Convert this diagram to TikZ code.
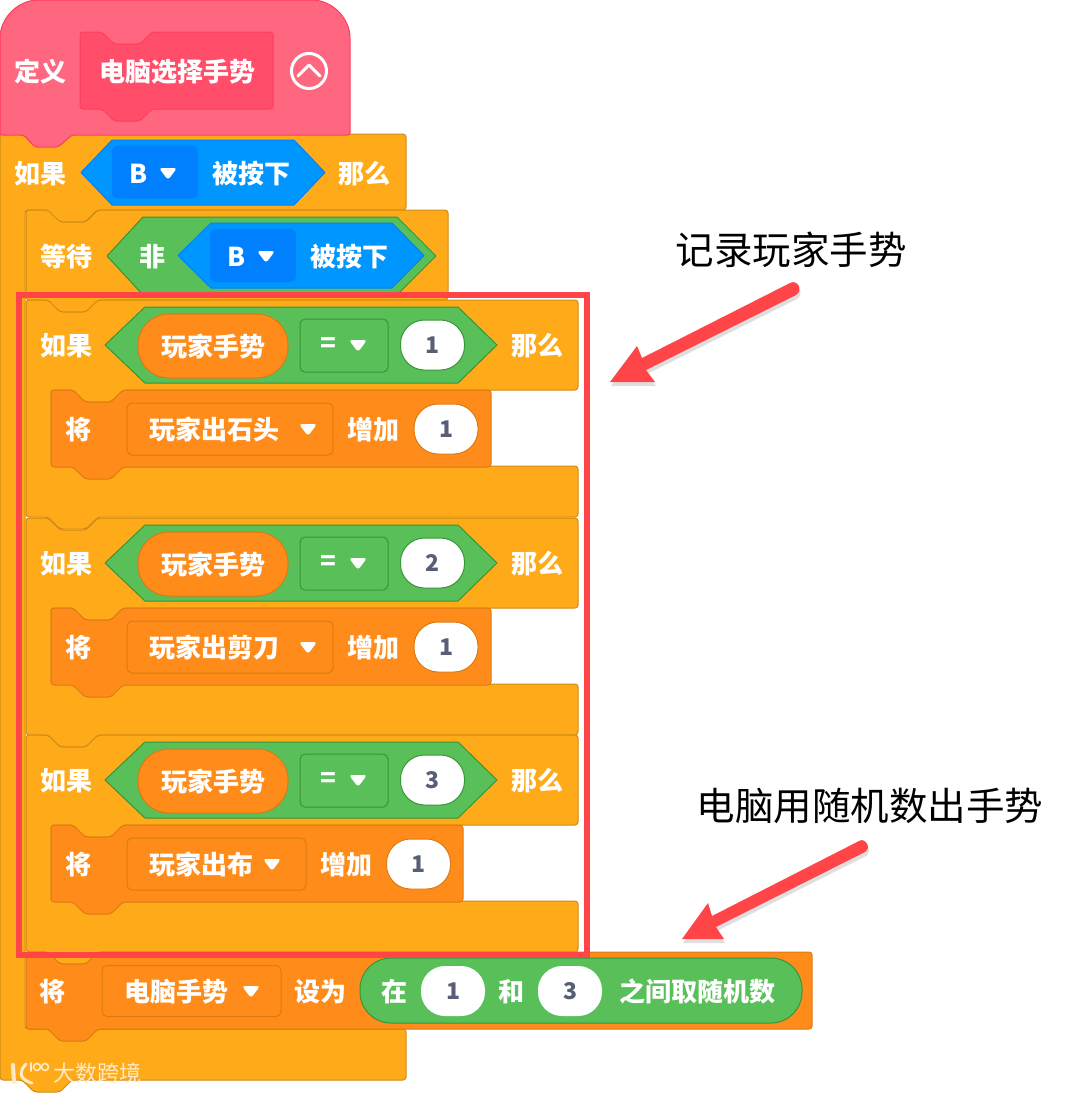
\documentclass[tikz,border=0pt]{standalone}
\usepackage{fontspec}
\setmainfont{Noto Sans CJK SC}
\usepackage{tikz}
\usetikzlibrary{shadows}

\definecolor{procpink}{HTML}{FF6680}
\definecolor{procdark}{HTML}{FF4D6A}
\definecolor{procline}{HTML}{FF3355}
\definecolor{ctrlgold}{HTML}{FFAB19}
\definecolor{ctrlline}{HTML}{CF8B17}
\definecolor{opgreen}{HTML}{59C059}
\definecolor{opline}{HTML}{389438}
\definecolor{sensblue}{HTML}{0096FF}
\definecolor{sensdark}{HTML}{0080FF}
\definecolor{varorange}{HTML}{FF8C1A}
\definecolor{varline}{HTML}{DB7A12}
\definecolor{numgrey}{HTML}{575E75}
\definecolor{markred}{HTML}{FF4548}

% block with a notch on top and a tab below: left, top, right, bottom
\newcommand{\stackpath}[4]{(#1,#2) -- (#1+22,#2) -- (#1+34,#2+12) -- (#1+60,#2+12) -- (#1+72,#2) -- (#3,#2) -- (#3,#4) -- (#1+72,#4) -- (#1+60,#4+12) -- (#1+34,#4+12) -- (#1+22,#4) -- (#1,#4) -- cycle}
% mouth block: left, top, right, head bottom, foot top, foot bottom
\newcommand{\mouthpath}[6]{(#1,#2) -- (#1+22,#2) -- (#1+34,#2+12) -- (#1+60,#2+12) -- (#1+72,#2) -- (#3,#2) -- (#3,#4) -- (#1+97,#4) -- (#1+85,#4+12) -- (#1+59,#4+12) -- (#1+47,#4) -- (#1+25,#4) -- (#1+25,#5) -- (#3,#5) -- (#3,#6) -- (#1+72,#6) -- (#1+60,#6+12) -- (#1+34,#6+12) -- (#1+22,#6) -- (#1,#6) -- cycle}
% hexagon: tip, shoulder, shoulder, tip, top, bottom
\newcommand{\hexpath}[6]{(#1,#5/2+#6/2) -- (#2,#5) -- (#3,#5) -- (#4,#5/2+#6/2) -- (#3,#6) -- (#2,#6) -- cycle}
% dropdown triangle
\newcommand{\dropmark}[2]{\fill[white,rounded corners=3pt] (#1-9,#2-5) -- (#1+9,#2-5) -- (#1,#2+7) -- cycle;}

\tikzset{
  blockword/.style={text=white,inner sep=0pt,yshift=-0.5pt,font=\bfseries\fontsize{26}{26}\selectfont},
  numword/.style={fill=white,text=numgrey,inner sep=0pt,font=\bfseries\fontsize{23}{23}\selectfont,rounded corners=24pt,minimum height=50pt},
  dropbox/.style={draw=#1,line width=1pt,rounded corners=5pt,inner sep=0pt},
  notebig/.style={text=black,inner sep=0pt,font=\fontsize{38.5}{38.5}\selectfont},
  stackline/.style={line width=1pt,rounded corners=3pt,line join=round},
  hexline/.style={line width=1pt,line join=round},
  markarrow/.style={fill=markred,drop shadow={shadow xshift=1pt,shadow yshift=-4pt,opacity=0.25}},
}

\begin{document}
\begin{tikzpicture}[x=1pt,y=-1pt]
\useasboundingbox (0,0) rectangle (1080,1093);
\fill[white] (0,0) rectangle (1080,1093);

% Outer mouth block
\draw[stackline,fill=ctrlgold,draw=ctrlline] \mouthpath{0}{134}{406}{210}{1029}{1080};

% Wait block
\draw[stackline,fill=ctrlgold,draw=ctrlline] \stackpath{26}{210}{448}{300};

% Define hat
\draw[line width=1pt,fill=procpink,draw=procline!80!procpink,rounded corners=2pt] (0,135) -- (0,40) .. controls (0,18) and (18,0) .. (40,0) -- (310,0) .. controls (332,0) and (350,18) .. (350,40) -- (350,135) -- (72,135) -- (58,147) -- (35,147) -- (24,135) -- cycle;
\draw[stackline,fill=procdark,draw=procline!80!procpink] \stackpath{80}{32}{273}{109};
\node[blockword] (defword) at (40,71) {定义};
\node[blockword] (defname) at (177,71) {电脑选择手势};
\node[draw=white,line width=3pt,circle,minimum size=35pt,inner sep=0pt] (defcircle) at (309,71) {};
\draw[white,line width=3pt,line cap=round,line join=round] (298,76) -- (309,65) -- (320,76);

% First row
\node[blockword] (ifwordtop) at (40,173) {如果};
\draw[hexline,fill=sensblue,draw=sensdark] \hexpath{81}{112}{294}{325}{140}{205};
\node[fill=sensdark,rounded corners=6pt,minimum width=86pt,minimum height=53pt,inner sep=0pt] (keybox) at (155,172) {};
\node[blockword] (keyword) at (139,173) {B};
\dropmark{168}{173}
\node[blockword] (pressword) at (251,173) {被按下};
\node[blockword] (thenwordtop) at (364,173) {那么};

% Wait row
\node[blockword] (waitword) at (66,256) {等待};
\draw[hexline,fill=opgreen,draw=opline] \hexpath{107}{143}{397}{436}{217}{295};
\node[blockword] (notword) at (152,256) {非};
\draw[hexline,fill=sensblue,draw=sensdark] \hexpath{178}{211}{392}{424}{223}{288};
\node[fill=sensdark,rounded corners=6pt,minimum width=86pt,minimum height=53pt,inner sep=0pt] (keyboxwait) at (253,255.5) {};
\node[blockword] (keywordwait) at (237,256) {B};
\dropmark{266}{256}
\node[blockword] (pressbelow) at (349,256) {被按下};

% Three gesture tests
\foreach \yy/\num/\varname/\boxw/\boxx/\namex/\markx/\addx/\pillx/\endx in
  {0/1/玩家出石头/206/230/214/308/373/446/491,
   218/2/玩家出剪刀/206/230/214/308/373/446/491,
   435/3/玩家出布/179/216.5/201/272/346/418.5/463}{
  \begin{scope}[yshift=-\yy pt]
    \draw[stackline,fill=ctrlgold,draw=ctrlline] \mouthpath{26}{300}{578}{390}{466}{517};
    \draw[stackline,fill=varorange,draw=varline] \stackpath{51}{390}{\endx}{467};
    \node[blockword] (ifword\num) at (66,345) {如果};
    \draw[hexline,fill=opgreen,draw=opline] \hexpath{105}{145}{458}{497}{307}{383};
    \node[draw=varline,line width=1pt,fill=varorange,rounded corners=31pt,minimum width=150pt,minimum height=64pt,inner sep=0pt,blockword] (playerpill\num) at (213,345.5) {玩家手势};
    \node[dropbox=opline,minimum width=88pt,minimum height=53pt] (equalbox\num) at (344,345.5) {};
    \node[blockword] (equalword\num) at (328,345) {=};
    \dropmark{358}{345}
    \node[numword,draw=opline,line width=1pt,minimum width=64pt] (numpill\num) at (432.5,345) {\num};
    \node[blockword] (thenword\num) at (537,345) {那么};
    \node[blockword] (byword\num) at (78,429) {将};
    \node[dropbox=varline,minimum width=\boxw pt,minimum height=52pt] (varbox\num) at (\boxx,429) {};
    \node[blockword] (varword\num) at (\namex,429) {\varname};
    \dropmark{\markx}{429}
    \node[blockword] (addword\num) at (\addx,429) {增加};
    \node[numword,draw=varline,line width=1pt,minimum width=64pt] (addpill\num) at (\pillx,429) {1};
  \end{scope}
}

% Set computer gesture
\draw[stackline,fill=varorange,draw=varline] \stackpath{26}{952}{812}{1029};
\node[blockword] (setby) at (52,991) {将};
\node[dropbox=varline,minimum width=179pt,minimum height=51pt] (compbox) at (191.5,991) {};
\node[blockword] (compword) at (176,991) {电脑手势};
\dropmark{251}{991}
\node[blockword] (setword) at (320,991) {设为};
\node[draw=opline,line width=1pt,fill=opgreen,rounded corners=31pt,minimum width=442pt,minimum height=65pt,inner sep=0pt] (randpill) at (581,990.5) {};
\node[blockword] (fromword) at (394,991) {在};
\node[numword,minimum width=64pt] (fromnum) at (453,991) {1};
\node[blockword] (andword) at (511,991) {和};
\node[numword,minimum width=64pt] (tonum) at (570,991) {3};
\node[blockword] (randword) at (697,991) {之间取随机数};

% Red frame
\draw[markred,line width=6pt] (19,295) rectangle (587,955);

% Notes
\node[notebig] (notegesture) at (791,250) {记录玩家手势};
\node[notebig] (noterandom) at (870,806) {电脑用随机数出手势};
\path[markarrow] (610,382) -- (655,382) -- (646,370) -- (796,295) .. controls (804,290) and (797,279) .. (790,283) -- (642,358) -- (637,346) -- cycle;
\path[markarrow] (682,939) -- (724,939) -- (716,927) -- (865,852) .. controls (872,848) and (865,837) .. (859,841) -- (712,916) -- (708,903) -- cycle;

% Watermark
\begin{scope}[white!75!ctrlgold,line cap=round]
  \draw[line width=4pt] (13,1065) -- (14,1082);
  \draw[line width=3pt] (26,1064) .. controls (18,1072) and (20,1080) .. (32,1083);
  \draw[line width=1.6pt] (31,1063) -- (31,1071);
  \draw[line width=1.6pt] (37,1067) circle (3.5);
  \draw[line width=1.6pt] (45,1067) circle (3.5);
\end{scope}
\node[text=white!75!ctrlgold,inner sep=0pt,font=\fontsize{22}{22}\selectfont] (markword) at (97,1073) {大数跨境};
\end{tikzpicture}
\end{document}
